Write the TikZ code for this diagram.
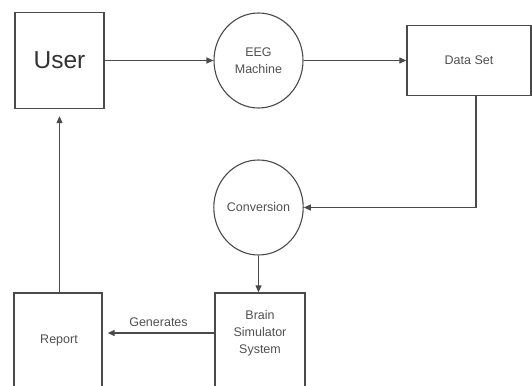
\documentclass[tikz,border=0pt]{standalone}
\usepackage{fontspec}
\setmainfont{Liberation Sans}
\usetikzlibrary{shapes.geometric,arrows.meta}
\definecolor{ln}{HTML}{4A4A4A}
\definecolor{tx}{HTML}{505050}
\tikzset{
  box/.style={draw=ln, line width=1.3pt, rectangle, inner sep=0pt},
  bubble/.style={draw=ln, line width=1.1pt, ellipse, minimum width=89pt, minimum height=95pt, inner sep=0pt, align=center, font=\fontsize{12.5}{17}\selectfont, text=tx},
  lbl/.style={align=center, font=\fontsize{12.5}{17}\selectfont, text=tx, inner sep=0pt},
  arr/.style={draw=ln, line width=1.1pt, -{Triangle[length=7pt,width=6pt]}}
}
\begin{document}
\begin{tikzpicture}[x=1pt,y=-1pt]
\useasboundingbox (0,0) rectangle (532,385);
\clip (0,0) rectangle (532,385);
\node[box, minimum width=89pt, minimum height=96pt, font=\fontsize{24.5}{28}\selectfont, text=black!80] (user) at (59.5,60.5) {User};
\node[bubble] (eeg) at (258.5,60.5) {EEG\\Machine};
\node[box, minimum width=124pt, minimum height=70pt, lbl] (data) at (469,60.5) {Data Set};
\node[bubble] (conv) at (258.5,207.5) {Conversion};
\node[box, minimum width=90pt, minimum height=110pt] (brain) at (260,348) {};
\node[lbl] (brainlbl) at (260,333) {Brain\\Simulator\\System};
\node[box, minimum width=88pt, minimum height=110pt] (report) at (58,348) {};
\node[lbl] (reportlbl) at (59,340) {Report};
\draw[arr] (user.east) -- (eeg.west);
\draw[arr] (eeg.east) -- (data.west);
\draw[arr] ([xshift=7pt]data.south) |- (conv.east);
\draw[arr] (conv.south) -- (conv.south |- brain.north);
\draw[arr, shorten >=5pt] (brainlbl -| brain.west) -- node[lbl, above=6pt] (gen) {Generates} (brainlbl -| report.east);
\draw[arr, shorten >=7pt] (user.south |- report.north) -- (user.south);
\end{tikzpicture}
\end{document}
